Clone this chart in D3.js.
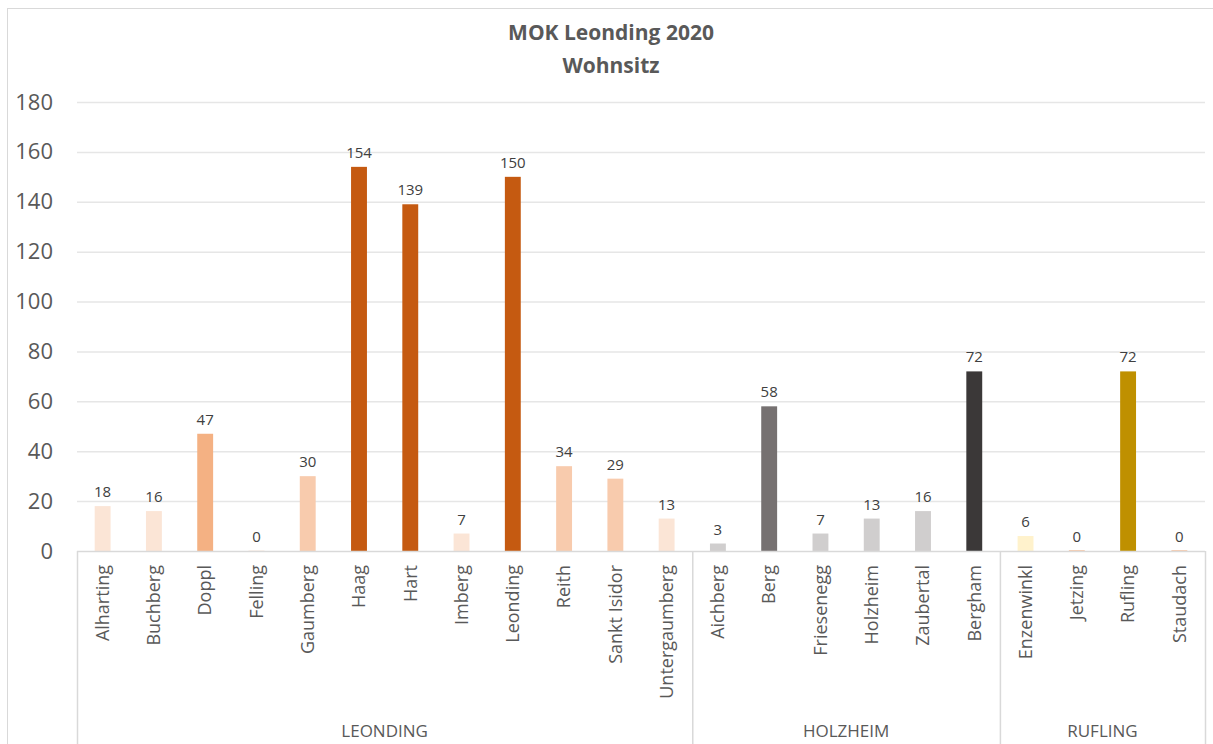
<!DOCTYPE html>
<html>
<head>
<meta charset="utf-8">
<script src="https://cdn.jsdelivr.net/npm/d3@7"></script>
<style>
  body { margin: 0; background: #fff; }
  text { font-family: "Open Sans", sans-serif; }
</style>
</head>
<body>
<svg id="chart" width="1213" height="744"></svg>
<script>
// data
const places = ['Alharting', 'Buchberg', 'Doppl', 'Felling', 'Gaumberg', 'Haag', 'Hart', 'Imberg',
  'Leonding', 'Reith', 'Sankt Isidor', 'Untergaumberg',
  'Aichberg', 'Berg', 'Friesenegg', 'Holzheim', 'Zaubertal', 'Bergham',
  'Enzenwinkl', 'Jetzing', 'Rufling', 'Staudach'];
const counts = [18, 16, 47, 0, 30, 154, 139, 7, 150, 34, 29, 13,
  3, 58, 7, 13, 16, 72,
  6, 0, 72, 0];
const groups = ['LEONDING', 'HOLZHEIM', 'RUFLING'];
const groupSizes = [12, 6, 4];
const colors = ['#FBE5D6', '#FBE5D6', '#F4B183', '#FDF3EC', '#F8CBAD', '#C55A11', '#C55A11', '#FBE5D6',
  '#C55A11', '#F8CBAD', '#F8CBAD', '#FBE5D6',
  '#D0CECE', '#767171', '#D0CECE', '#D0CECE', '#D0CECE', '#3B3838',
  '#FFF2CC', '#F8CBAD', '#BF9000', '#F8CBAD'];
const yTicks = [0, 20, 40, 60, 80, 100, 120, 140, 160, 180];

const svg = d3.select('#chart');
const plotLeft = 77, plotRight = 1205, plotTop = 102, base = 551;

// chart frame
svg.append('rect')
  .attr('x', 7.5).attr('y', 8.5)
  .attr('width', 1220).attr('height', 800)
  .attr('fill', 'none').attr('stroke', '#d9d9d9');

svg.append('text')
  .attr('x', 611).attr('y', 40)
  .attr('text-anchor', 'middle')
  .attr('font-size', 21).attr('font-weight', 'bold')
  .attr('fill', '#595959')
  .text('MOK Leonding 2020');
svg.append('text')
  .attr('x', 611).attr('y', 73)
  .attr('text-anchor', 'middle')
  .attr('font-size', 21).attr('font-weight', 'bold')
  .attr('fill', '#595959')
  .text('Wohnsitz');

let x = d3.scaleBand()
  .domain(places)
  .range([plotLeft, plotRight])
  .paddingInner(0.69)
  .paddingOuter(0.345);

let y = d3.scaleLinear()
  .domain([0, 180])
  .range([base, plotTop]);

// gridlines
svg.append('g')
  .selectAll('line')
  .data(yTicks.filter(t => t > 0))
  .enter()
  .append('line')
  .attr('x1', plotLeft).attr('x2', plotRight)
  .attr('y1', d => y(d) + 0.5).attr('y2', d => y(d) + 0.5)
  .attr('stroke', '#e6e6e6')
  .attr('stroke-width', 1.5);

let yAxis = svg.append('g')
  .attr('transform', `translate(${plotLeft},0)`)
  .call(d3.axisLeft(y).tickValues(yTicks).tickSize(0).tickPadding(24));
yAxis.select('.domain').remove();
yAxis.selectAll('text')
  .attr('font-size', 22)
  .attr('fill', '#595959')
  .style('font-family', '"Open Sans", sans-serif');

// bars
svg.append('g')
  .selectAll('rect')
  .data(places)
  .enter()
  .append('rect')
  .attr('x', d => x(d))
  .attr('width', x.bandwidth())
  .attr('y', (d, i) => counts[i] > 0 ? y(counts[i]) : base - 1)
  .attr('height', (d, i) => counts[i] > 0 ? base - y(counts[i]) : 1)
  .attr('fill', (d, i) => colors[i]);

// data labels
svg.append('g')
  .selectAll('text')
  .data(places)
  .enter()
  .append('text')
  .attr('x', d => x(d) + x.bandwidth() / 2)
  .attr('y', (d, i) => y(counts[i]) - 9)
  .attr('text-anchor', 'middle')
  .attr('font-size', 15)
  .attr('fill', '#404040')
  .text((d, i) => counts[i]);

// category axis line
svg.append('line')
  .attr('x1', plotLeft).attr('x2', plotRight)
  .attr('y1', base + 0.5).attr('y2', base + 0.5)
  .attr('stroke', '#d9d9d9').attr('stroke-width', 1.5);

// place labels, rotated
svg.append('g')
  .selectAll('text')
  .data(places)
  .enter()
  .append('text')
  .attr('transform', d => `translate(${x(d) + x.bandwidth() / 2},565) rotate(-90)`)
  .attr('text-anchor', 'end')
  .attr('dy', '0.35em')
  .attr('font-size', 18)
  .attr('fill', '#595959')
  .text(d => d);

// group boundaries and labels
let step = x.step();
let bounds = [0];
groupSizes.forEach(n => bounds.push(bounds[bounds.length - 1] + n));

svg.append('g')
  .selectAll('line')
  .data(bounds)
  .enter()
  .append('line')
  .attr('x1', b => plotLeft + b * step + 0.5).attr('x2', b => plotLeft + b * step + 0.5)
  .attr('y1', base).attr('y2', 744)
  .attr('stroke', '#d9d9d9').attr('stroke-width', 1.5);

svg.append('g')
  .selectAll('text')
  .data(groups)
  .enter()
  .append('text')
  .attr('x', (g, i) => plotLeft + (bounds[i] + bounds[i + 1]) / 2 * step)
  .attr('y', 737)
  .attr('text-anchor', 'middle')
  .attr('font-size', 17)
  .attr('fill', '#595959')
  .text(g => g);
</script>
</body>
</html>
